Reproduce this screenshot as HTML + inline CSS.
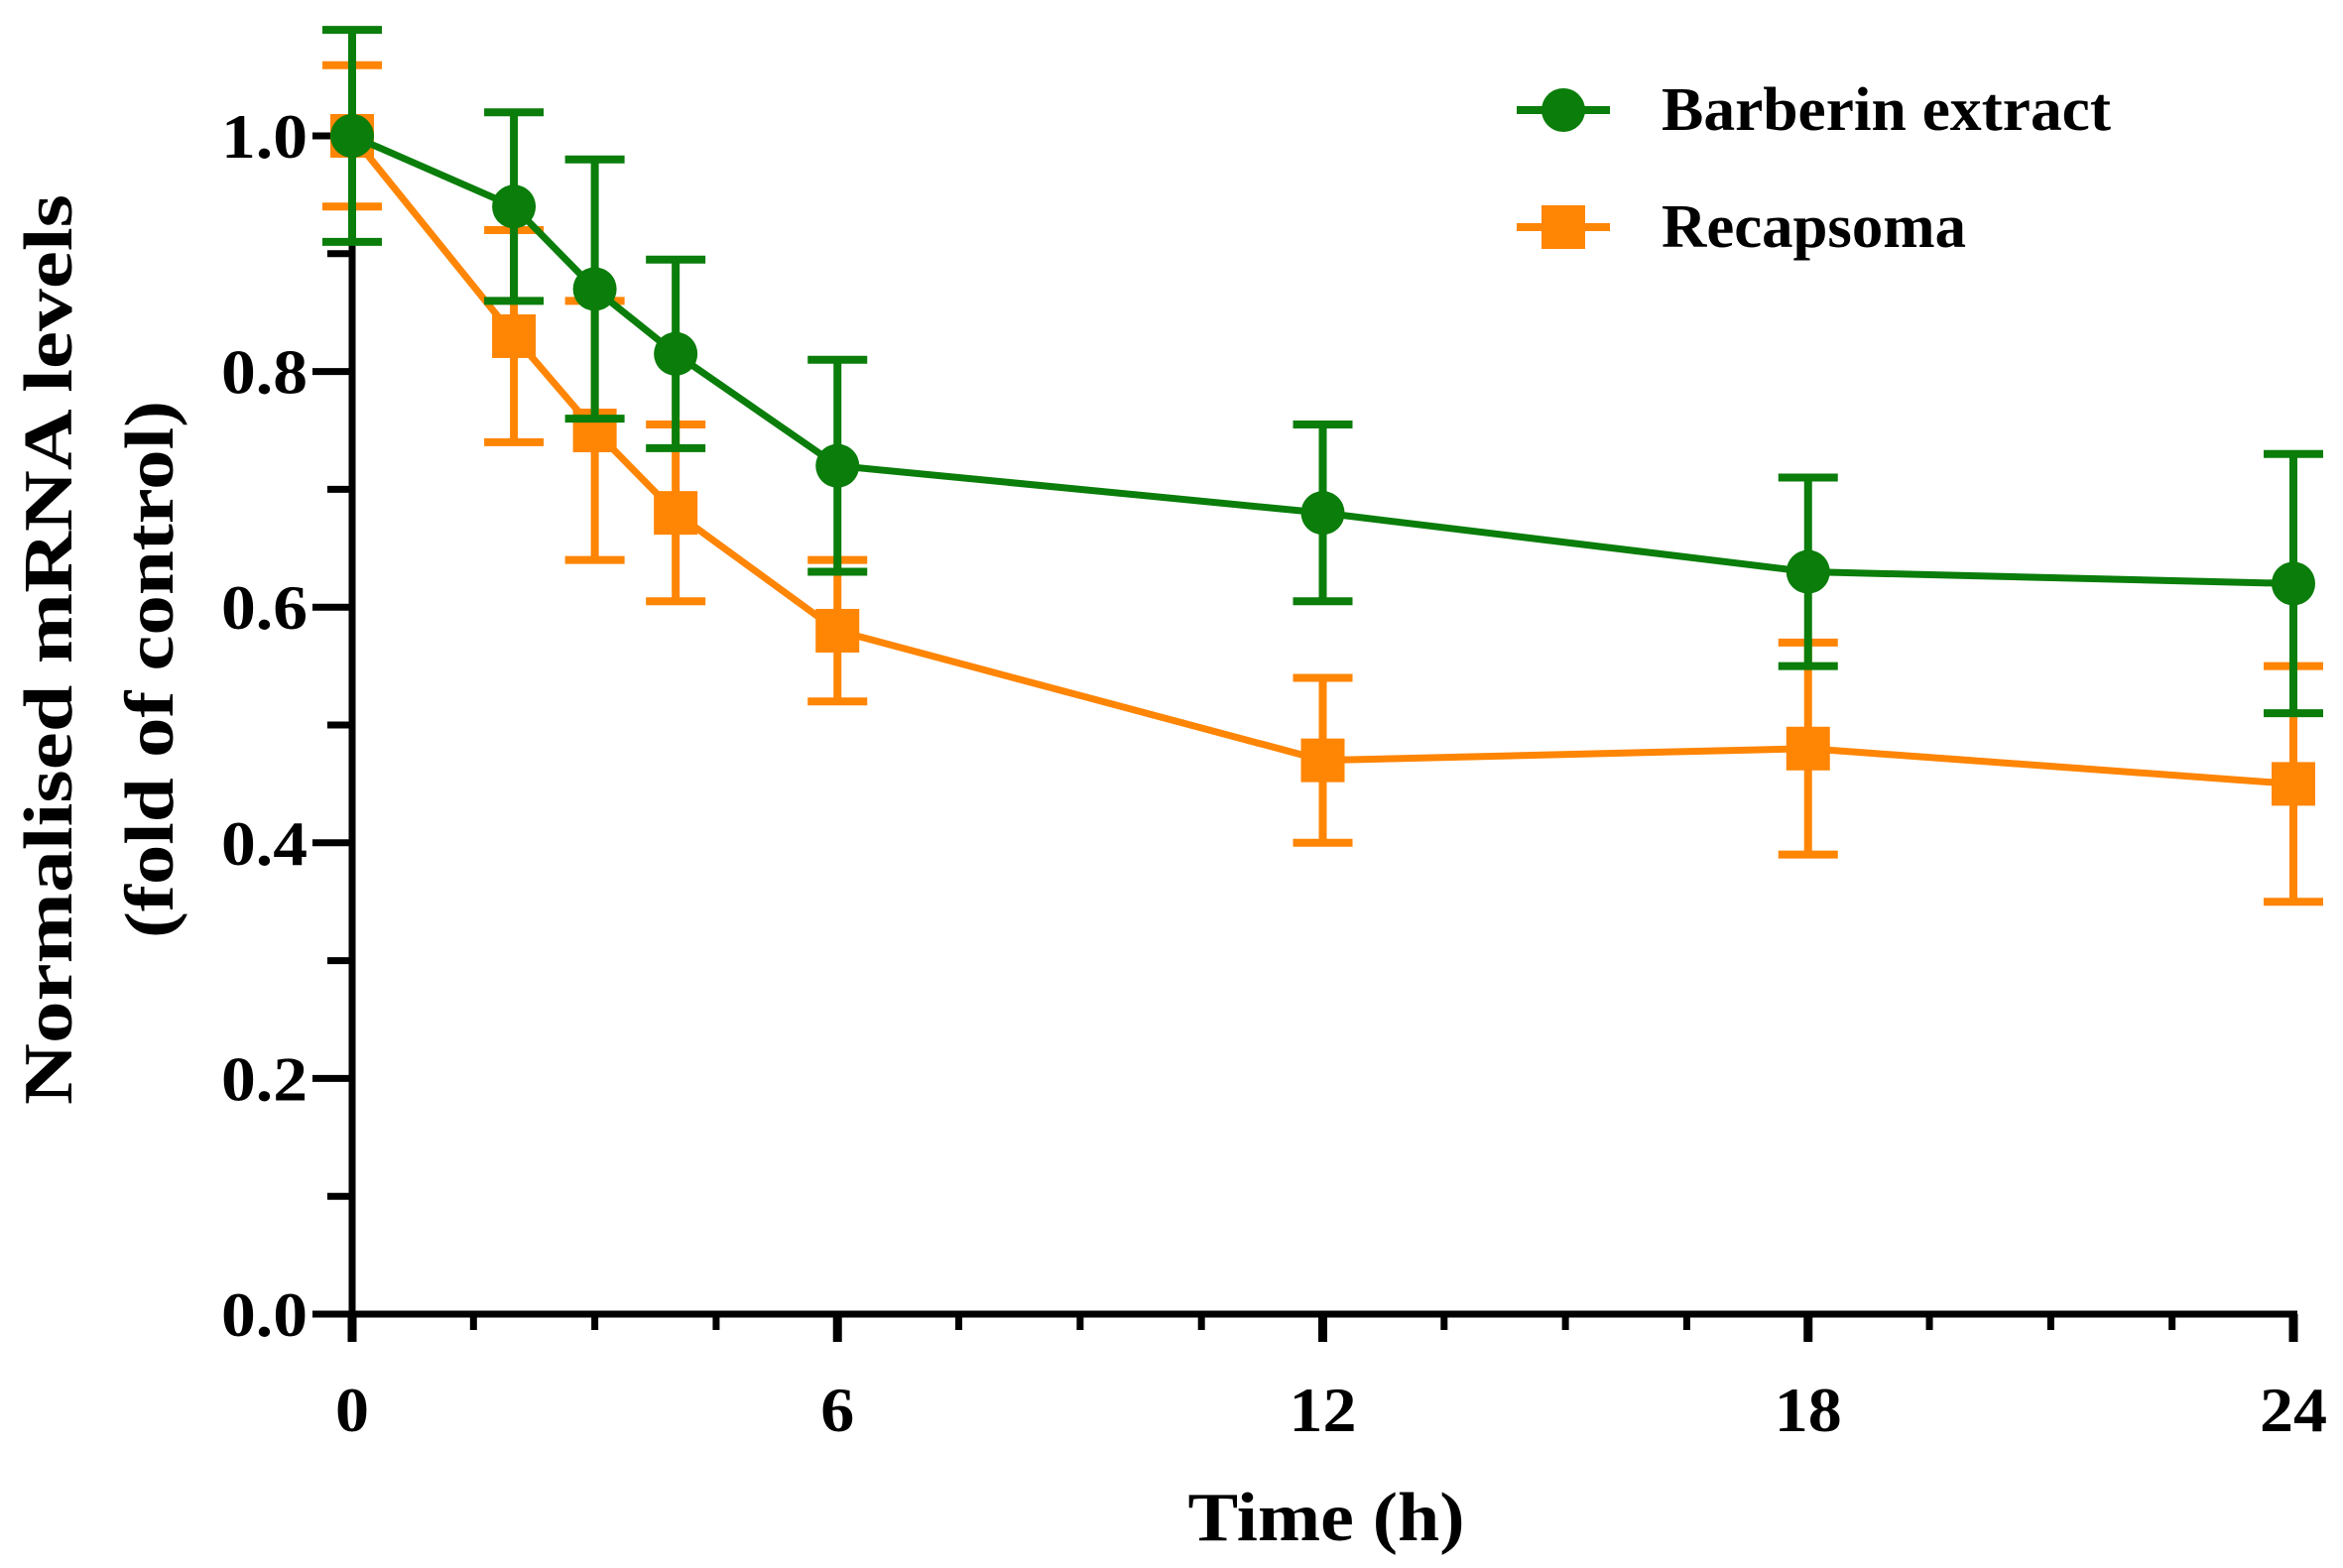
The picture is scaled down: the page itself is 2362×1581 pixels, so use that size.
<!DOCTYPE html>
<html><head><meta charset="utf-8"><style>
html,body{margin:0;padding:0;background:#fff;}
svg{display:block;font-family:"Liberation Serif",serif;font-weight:bold;}
</style></head><body>
<svg id="chart" width="2362" height="1581" viewBox="0 0 2362 1581" xmlns="http://www.w3.org/2000/svg">
<g id="axes"></g>
<g id="series"></g>
<g id="legend">
  <line x1="1529" y1="111" x2="1623" y2="111" stroke="#0a7d0a" stroke-width="8"/>
  <circle cx="1576" cy="111" r="22" fill="#0a7d0a"/>
  <text x="1675" y="131" font-size="62" textLength="453" lengthAdjust="spacingAndGlyphs">Barberin extract</text>
  <line x1="1529" y1="229" x2="1623" y2="229" stroke="#ff8505" stroke-width="8"/>
  <rect x="1554" y="207" width="44" height="44" fill="#ff8505"/>
  <text x="1675" y="249" font-size="62" textLength="307" lengthAdjust="spacingAndGlyphs">Recapsoma</text>
</g>
<text x="1337" y="1553" font-size="70" text-anchor="middle" textLength="279" lengthAdjust="spacingAndGlyphs">Time (h)</text>
<text transform="translate(72,655) rotate(-90)" font-size="70" text-anchor="middle" textLength="918" lengthAdjust="spacingAndGlyphs">Normalised mRNA levels</text>
<text transform="translate(174,675) rotate(-90)" font-size="70" text-anchor="middle" textLength="542" lengthAdjust="spacingAndGlyphs">(fold of control)</text>
</svg>
<script>
const times = [0, 2, 3, 4, 6, 12, 18, 24];
const barberinMean = [1.0, 0.94, 0.87, 0.815, 0.72, 0.68, 0.63, 0.62];
const barberinErr = [0.09, 0.08, 0.11, 0.08, 0.09, 0.075, 0.08, 0.11];
const recapsomaMean = [1.0, 0.83, 0.75, 0.68, 0.58, 0.47, 0.48, 0.45];
const recapsomaErr = [0.06, 0.09, 0.11, 0.075, 0.06, 0.07, 0.09, 0.10];
const xTickLabels = [0, 6, 12, 18, 24];
const yTickLabels = ["0.0", "0.2", "0.4", "0.6", "0.8", "1.0"];

const NS = "http://www.w3.org/2000/svg";
const X0 = 355, X1 = 2312, Y0 = 1325, Y1 = 137;
function xs(v){ return X0 + (X1 - X0) * v / 24; }
function ys(v){ return Y0 - (Y0 - Y1) * v / 1.0; }
function mk(tag, attrs, parent){
  const e = document.createElementNS(NS, tag);
  for (const k in attrs) e.setAttribute(k, attrs[k]);
  parent.appendChild(e);
  return e;
}
function labelLen(s){ let w = 0; for (const c of String(s)) w += (c === '.') ? 19 : 34; return w; }
const axes = document.getElementById('axes');
let el;
el = mk('line', {x1: X0, y1: ys(0)+3, x2: X0, y2: ys(1.0), stroke: '#000', 'stroke-width': 7}, axes);


el = mk('line', {x1: X0-40, y1: Y0, x2: X1+4, y2: Y0, stroke: '#000', 'stroke-width': 7}, axes);


for (let i = 0; i <= 10; i++) {
  const v = i / 10;
  const major = i % 2 === 0;
  el = mk('line', {x1: X0 - (major ? 40 : 25), y1: ys(v), x2: X0, y2: ys(v), stroke: '#000', 'stroke-width': 7}, axes);
  
  
}
yTickLabels.forEach(function(lbl){
  el = mk('text', {x: 310, y: ys(parseFloat(lbl)) + 22, 'font-size': 64, 'text-anchor': 'end', textLength: labelLen(lbl), lengthAdjust: 'spacingAndGlyphs'}, axes);
  el.textContent = lbl;
  
  
});
for (let i = 0; i <= 16; i++) {
  const v = i * 1.5;
  const major = i % 4 === 0;
  el = mk('line', {x1: xs(v), y1: Y0, x2: xs(v), y2: Y0 + (major ? 28 : 16), stroke: '#000', 'stroke-width': major ? 9 : 7}, axes);
  
  
}
xTickLabels.forEach(function(v){
  el = mk('text', {x: xs(v), y: 1443, 'font-size': 64, 'text-anchor': 'middle', textLength: labelLen(v), lengthAdjust: 'spacingAndGlyphs'}, axes);
  el.textContent = v;
  
  
});

const series = document.getElementById('series');
function drawSeries(name, mean, err, color, shape){
  const g = mk('g', {}, series);
  
  
  times.forEach(function(t, i){
    const x = xs(t);
    el = mk('line', {x1: x, y1: ys(mean[i]+err[i]), x2: x, y2: ys(mean[i]-err[i]), stroke: color, 'stroke-width': 8}, g);
    
    
    [mean[i]+err[i], mean[i]-err[i]].forEach(function(c){
      el = mk('line', {x1: x-30, y1: ys(c), x2: x+30, y2: ys(c), stroke: color, 'stroke-width': 8}, g);
      
      
    });
  });
  const pts = times.map(function(t, i){ return xs(t) + ',' + ys(mean[i]); }).join(' ');
  el = mk('polyline', {points: pts, fill: 'none', stroke: color, 'stroke-width': 7}, g);
  
  
  times.forEach(function(t, i){
    if (shape === 'circle') {
      el = mk('circle', {cx: xs(t), cy: ys(mean[i]), r: 22, fill: color}, g);
    } else {
      el = mk('rect', {x: xs(t)-22, y: ys(mean[i])-22, width: 44, height: 44, fill: color}, g);
    }
    
    
  });
}
drawSeries('recapsoma', recapsomaMean, recapsomaErr, '#ff8505', 'square');
drawSeries('barberin', barberinMean, barberinErr, '#0a7d0a', 'circle');
</script>
</body></html>
